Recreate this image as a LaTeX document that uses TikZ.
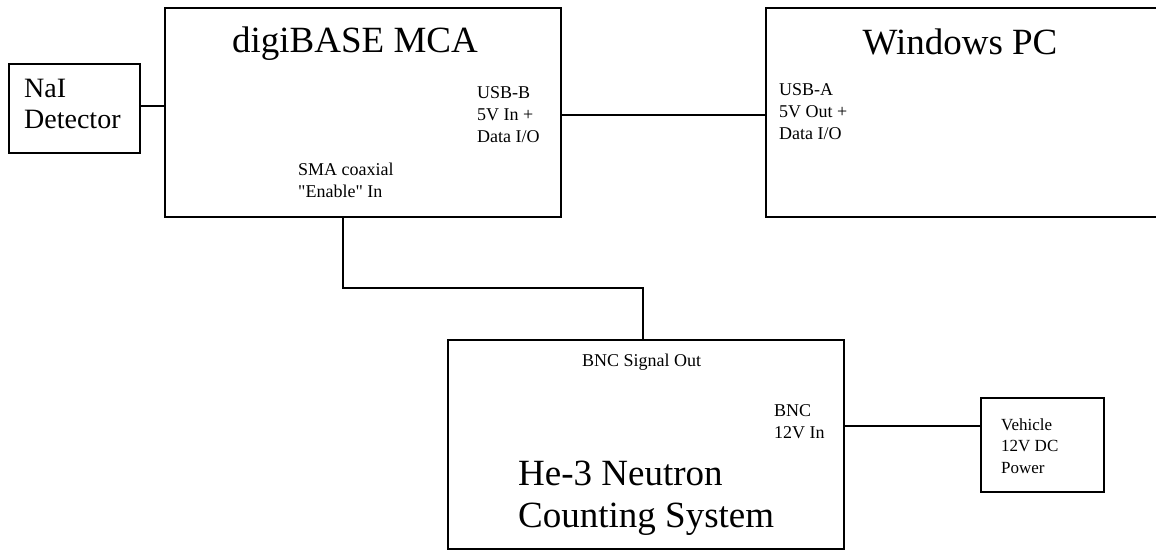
\documentclass[tikz,border=0pt]{standalone}
\usepackage{fontspec}
\setmainfont{Liberation Serif}[Ligatures=TeXOff]
\begin{document}
\begin{tikzpicture}[x=1pt,y=1pt,
  box/.style={draw=black,line width=2pt,rectangle,inner sep=0pt,anchor=center},
  conn/.style={draw=black,line width=2pt},
  big/.style={font=\fontsize{37}{42}\selectfont,inner sep=0pt,align=left},
  mid/.style={font=\fontsize{28}{31}\selectfont,inner sep=0pt,align=left},
  small/.style={font=\fontsize{18}{22}\selectfont,inner sep=0pt,align=left},
  tiny/.style={font=\fontsize{17}{21.5}\selectfont,inner sep=0pt,align=left}]
\clip (0,0) rectangle (1156,-550);
\fill[white] (0,0) rectangle (1156,-550);
% boxes
\node[box,minimum width=131pt,minimum height=89pt] (nai) at (74.5,-108.5) {};
\node[box,minimum width=396pt,minimum height=209pt] (mca) at (363,-112.5) {};
\node[box,minimum width=404pt,minimum height=209pt] (pc) at (968,-112.5) {};
\node[box,minimum width=396pt,minimum height=209pt] (he) at (646,-444.5) {};
\node[box,minimum width=123pt,minimum height=94pt] (veh) at (1042.5,-445) {};
% texts (base = baseline of the last line)
\node[big,anchor=base] (tmca) at (355,-52) {digiBASE MCA};
\node[big,anchor=base] (tpc) at (960,-54) {Windows PC};
\node[mid,anchor=base west] (tnai) at (24,-128) {NaI\\Detector};
\node[small,anchor=base west] (tusbb) at (477,-142) {USB-B\\5V In +\\Data I/O};
\node[small,anchor=base west] (tsma) at (298,-197) {SMA coaxial\\"Enable" In};
\node[small,anchor=base west] (tusba) at (779,-139) {USB-A\\5V Out +\\Data I/O};
\node[small,anchor=base west] (tbncs) at (582,-366) {BNC Signal Out};
\node[small,anchor=base west] (tbnc) at (774,-438) {BNC\\12V In};
\node[big,anchor=base west] (the) at (518,-527) {He-3 Neutron\\Counting System};
\node[tiny,anchor=base west] (tveh) at (1001,-473) {Vehicle\\12V DC\\Power};
% connectors
\coordinate (y1) at (0,-106);
\coordinate (y2) at (0,-115);
\coordinate (y3) at (0,-426);
\coordinate (xa) at (343,0);
\coordinate (xb) at (643,0);
\coordinate (ym) at (0,-288);
\draw[conn] (nai.east |- y1) -- (mca.west |- y1);
\draw[conn] (mca.east |- y2) -- (pc.west |- y2);
\draw[conn] (mca.south -| xa) -- (xa |- ym) -- (xb |- ym) -- (he.north -| xb);
\draw[conn] (he.east |- y3) -- (veh.west |- y3);
\end{tikzpicture}
\end{document}
